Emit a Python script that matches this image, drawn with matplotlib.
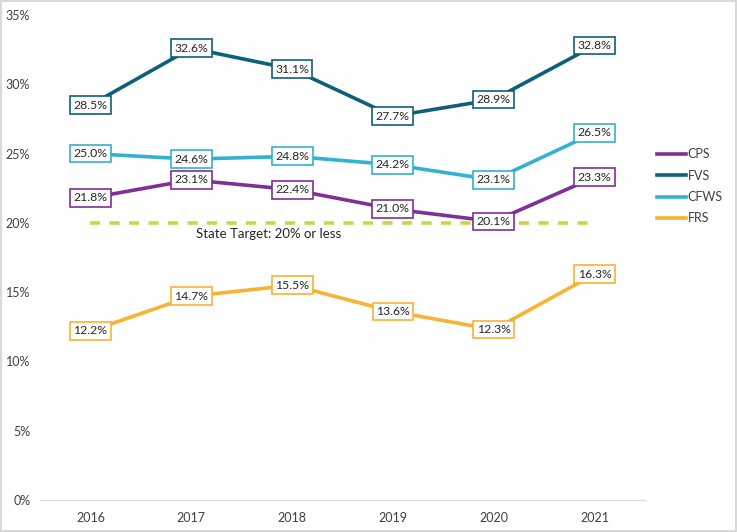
import matplotlib.pyplot as plt
from matplotlib.patches import Rectangle
from matplotlib.ticker import FuncFormatter

years = ["2016", "2017", "2018", "2019", "2020", "2021"]
cps = [21.8, 23.1, 22.4, 21.0, 20.1, 23.3]
fvs = [28.5, 32.6, 31.1, 27.7, 28.9, 32.8]
cfws = [25.0, 24.6, 24.8, 24.2, 23.1, 26.5]
frs = [12.2, 14.7, 15.5, 13.6, 12.3, 16.3]
target = 20.0
target_label = "State Target: 20% or less"

series = [
    ("CPS", cps, "#7F2F96"),
    ("FVS", fvs, "#0D6079"),
    ("CFWS", cfws, "#33B2CE"),
    ("FRS", frs, "#F9B232"),
]

plt.rcParams["font.family"] = ["Lato", "DejaVu Sans"]

fig = plt.figure(figsize=(7.37, 5.32), dpi=100)
ax = fig.add_axes([40 / 737, 32 / 532, 605 / 737, 485 / 532])

x = list(range(len(years)))

# target line
ax.plot(x, [target] * len(x), color="#C9D54B", lw=2.6, ls=(0, (2.8, 2.6)), zorder=1)
ax.text(1.77, 19.2, target_label, ha="center", va="center", fontsize=9.5, color="#262626")

handles = []
for name, vals, color in series:
    line, = ax.plot(x, vals, color=color, lw=2.6, label=name, zorder=2)
    handles.append(line)
    for xi, v in zip(x, vals):
        ax.text(xi, v, f"{v:.1f}%", ha="center", va="center", fontsize=8.8,
                color="#262626", zorder=3,
                bbox=dict(boxstyle="square,pad=0.28", fc="white", ec=color, lw=1.2))

ax.set_xlim(-0.5, 5.5)
ax.set_ylim(0, 35)
ax.set_yticks(range(0, 36, 5))
ax.yaxis.set_major_formatter(FuncFormatter(lambda v, p: f"{v:.0f}%"))
ax.set_xticks(x)
ax.set_xticklabels(years)
ax.tick_params(axis="both", length=0, labelsize=9, colors="#404040")
ax.tick_params(axis="x", pad=9)
ax.tick_params(axis="y", pad=7)

for side in ["top", "right", "left"]:
    ax.spines[side].set_visible(False)
ax.spines["bottom"].set_color("#D9D9D9")

fig.legend(handles=handles, loc="upper left", bbox_to_anchor=(646 / 737, 1 - 137 / 532),
           frameon=False, fontsize=9, handlelength=2.3, handletextpad=0.15,
           labelspacing=0.75, labelcolor="#404040")

fig.patches.append(Rectangle((0.002, 0.002), 0.996, 0.996, transform=fig.transFigure,
                             fill=False, ec="#D9D9D9", lw=1.5))

fig.savefig("out.png", dpi=100)
